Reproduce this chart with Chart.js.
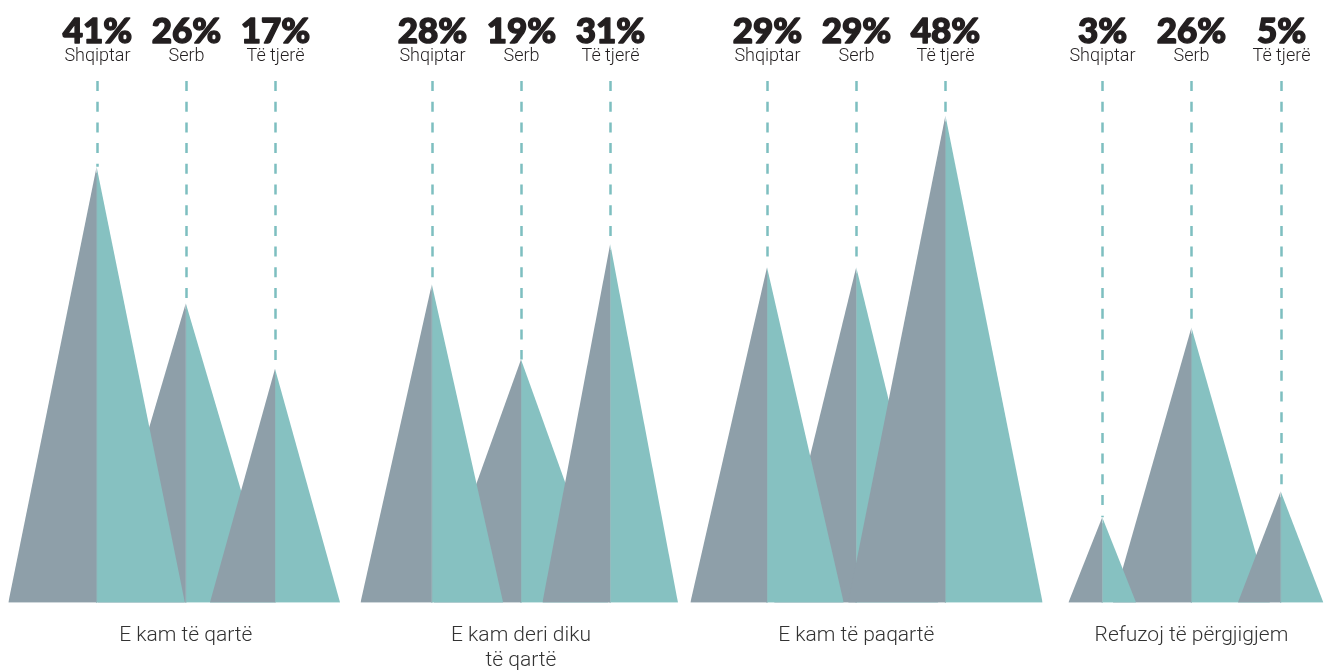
<!DOCTYPE html>
<html>
<head>
<meta charset="utf-8">
<script src="https://cdn.jsdelivr.net/npm/chart.js@4.4.1/dist/chart.umd.min.js"></script>
<style>
  html, body { margin: 0; padding: 0; background: #fff; }
  #wrap { width: 1325px; height: 670px; position: relative; }
</style>
</head>
<body>
<div id="wrap"><canvas id="malet"></canvas></div>
<script>
// Kategoritë (poshtë) dhe grupet (sipër)
const kategorite = ["E kam të qartë", ["E kam deri diku", "të qartë"], "E kam të paqartë", "Refuzoj të përgjigjem"];
const grupet = ["Shqiptar", "Serb", "Të tjerë"];

// Përqindjet e shkruara mbi çdo majë
const pctShqiptar = [41, 28, 29, 3];
const pctSerb = [26, 19, 29, 26];
const pctTjere = [17, 31, 48, 5];

// Lartësia e majës (njësi të boshtit y, 0–60), lexuar nga figura
const lartShqiptar = [43.4, 31.7, 33.4, 8.5];
const lartSerb = [29.8, 24.2, 33.4, 27.4];
const lartTjere = [23.3, 35.7, 48.5, 11.1];

// Gjysmë-gjerësia e bazës (njësi të boshtit x)
const gjerShqiptar = [0.99, 0.80, 0.86, 0.38];
const gjerSerb = [0.99, 0.98, 0.92, 0.88];
const gjerTjere = [0.73, 0.76, 1.09, 0.48];

const HAPI_GRUPIT = 3.758;
const GRI = "#8e9fa9";
const TURKEZ = "#86c1c1";
const VIJA = "#7dbfc0";
const TEKST = "#231f20";

const pct = [pctShqiptar, pctSerb, pctTjere];
const lart = [lartShqiptar, lartSerb, lartTjere];
const gjer = [gjerShqiptar, gjerSerb, gjerTjere];

function qendra(g, j) {
  return g * HAPI_GRUPIT + j;
}

// ndërto datasetet: çdo majë = dy gjysma (gri majtas, turkez djathtas)
const datasets = [];
kategorite.forEach((kat, g) => {
  grupet.forEach((emri, j) => {
    const x = qendra(g, j);
    const h = lart[j][g];
    const w = gjer[j][g];
    // Serb mbetet prapa dy të tjerave
    const rendi = j === 1 ? 2 : 1;
    datasets.push({
      label: emri + " majtas",
      data: [{ x: x - w, y: 0 }, { x: x, y: h }],
      backgroundColor: GRI,
      fill: "origin",
      order: rendi,
    });
    datasets.push({
      label: emri + " djathtas",
      data: [{ x: x, y: h }, { x: x + w, y: 0 }],
      backgroundColor: TURKEZ,
      fill: "origin",
      order: rendi,
    });
  });
});

// mbyll vijën e bardhë mes dy gjysmave (pas çdo gjysme të djathtë)
const tegeli = {
  id: "tegeli",
  afterDatasetDraw(chart, args) {
    if (args.index % 2 === 0) return;
    const n = (args.index - 1) / 2;
    const g = Math.floor(n / 3);
    const j = n % 3;
    const xs = chart.scales.x;
    const ys = chart.scales.y;
    const px = xs.getPixelForValue(qendra(g, j));
    const ctx = chart.ctx;
    ctx.save();
    ctx.strokeStyle = "#8fb5b9";
    ctx.lineWidth = 1.2;
    ctx.beginPath();
    ctx.moveTo(px, ys.getPixelForValue(lart[j][g]) + 6);
    ctx.lineTo(px, ys.getPixelForValue(0));
    ctx.stroke();
    ctx.restore();
  },
};

const etiketat = {
  id: "etiketat",
  afterDatasetsDraw(chart) {
    const ctx = chart.ctx;
    const xs = chart.scales.x;
    const ys = chart.scales.y;
    ctx.save();
    kategorite.forEach((kat, g) => {
      grupet.forEach((emri, j) => {
        const px = Math.round(xs.getPixelForValue(qendra(g, j))) + 0.5;
        const pMaja = ys.getPixelForValue(lart[j][g]);

        // vija me ndërprerje deri te maja
        ctx.strokeStyle = VIJA;
        ctx.lineWidth = 2.5;
        ctx.setLineDash([10, 10.7]);
        ctx.beginPath();
        ctx.moveTo(px, 81);
        ctx.lineTo(px, pMaja);
        ctx.stroke();
        ctx.setLineDash([]);

        // përqindja dhe emri i grupit
        ctx.fillStyle = TEKST;
        ctx.strokeStyle = TEKST;
        ctx.textAlign = "center";
        ctx.textBaseline = "alphabetic";
        ctx.font = "900 35px Lato, Roboto, sans-serif";
        ctx.lineWidth = 1.4;
        ctx.lineJoin = "round";
        ctx.fillText(pct[j][g] + "%", px, 43);
        ctx.strokeText(pct[j][g] + "%", px, 43);
        ctx.font = "300 18px Roboto, 'Noto Sans', sans-serif";
        ctx.fillText(emri, px, 61);
      });

      // kategoria poshtë
      const cx = xs.getPixelForValue(qendra(g, 1));
      ctx.fillStyle = "#333";
      ctx.font = "300 21px Roboto, 'Noto Sans', sans-serif";
      const rreshta = Array.isArray(kat) ? kat : [kat];
      rreshta.forEach((r, k) => {
        ctx.fillText(r, cx, 641 + k * 25);
      });
    });
    ctx.restore();
  },
};

new Chart(document.getElementById("malet").getContext("2d"), {
  type: "line",
  data: { datasets },
  options: {
    responsive: true,
    maintainAspectRatio: false,
    animation: false,
    layout: { padding: { top: 0, left: 0, right: 0, bottom: 67.3 } },
    elements: {
      line: { borderWidth: 0, tension: 0 },
      point: { radius: 0, hoverRadius: 0 },
    },
    plugins: {
      legend: { display: false },
      tooltip: { enabled: false },
    },
    scales: {
      x: { type: "linear", display: false, min: -96.6 / 89.2, max: (1325 - 96.6) / 89.2 },
      y: { display: false, min: 0, max: 60 },
    },
  },
  plugins: [tegeli, etiketat],
});
</script>
</body>
</html>
